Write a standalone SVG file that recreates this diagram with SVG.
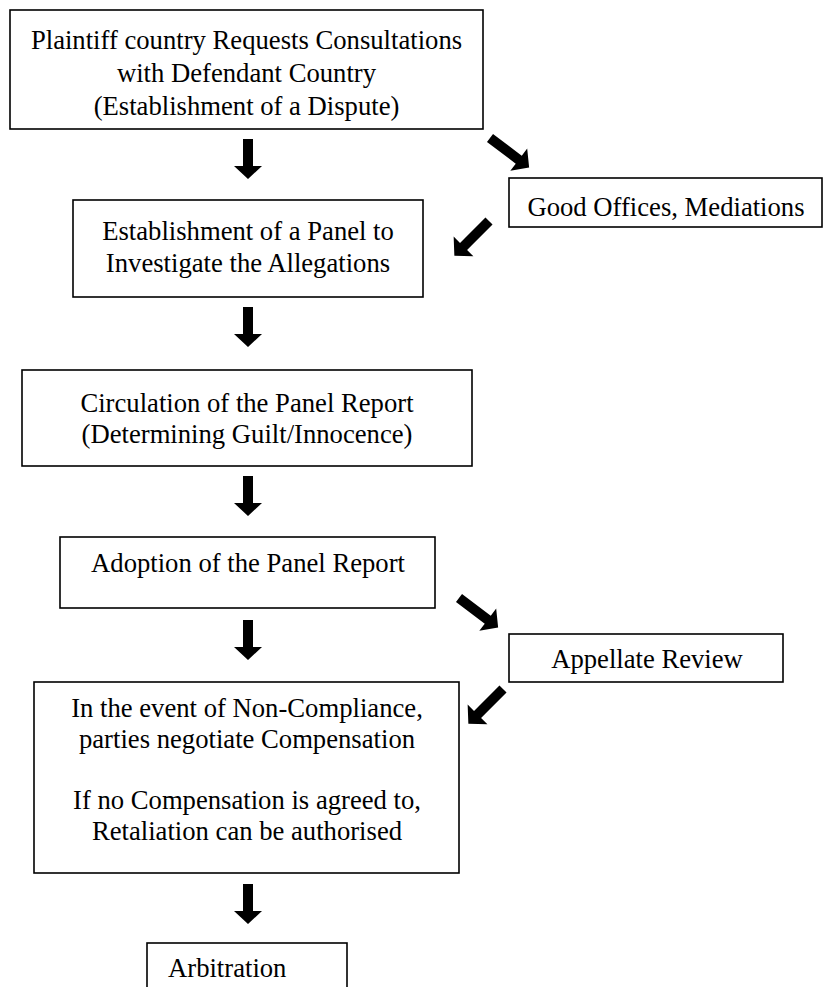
<svg xmlns="http://www.w3.org/2000/svg" width="823" height="987" viewBox="0 0 823 987">
<style>
.box{fill:#fff;stroke:#000;stroke-width:1.6}
.t{font-family:"Liberation Serif","Times New Roman",serif;font-size:26.67px;fill:#000;text-anchor:middle}
.arr{fill:#000}
</style>
<defs>
<path id="a40" d="M0,-5 H27 V-14 L40,0 L27,14 V5 H0 Z"/>
<path id="a49" d="M0,-5 H36 V-14 L49,0 L36,14 V5 H0 Z"/>
</defs>
<rect width="823" height="987" fill="#fff"/>
<g id="connectors" class="arr">
<use href="#a40" transform="translate(248,139) rotate(90)"/>
<use href="#a40" transform="translate(248,307) rotate(90)"/>
<use href="#a40" transform="translate(248,476) rotate(90)"/>
<use href="#a40" transform="translate(248,620) rotate(90)"/>
<use href="#a40" transform="translate(248,884) rotate(90)"/>
<use href="#a49" transform="translate(490,138) rotate(37)"/>
<use href="#a49" transform="translate(489,221) rotate(135)"/>
<use href="#a49" transform="translate(459,598) rotate(37)"/>
<use href="#a49" transform="translate(503,689) rotate(135)"/>
</g>
<g id="n1">
<rect class="box" x="10" y="10" width="473" height="119"/>
<text class="t" x="246.5" y="49">Plaintiff country Requests Consultations</text>
<text class="t" x="246.5" y="82">with Defendant Country</text>
<text class="t" x="246.5" y="115">(Establishment of a Dispute)</text>
</g>
<g id="n_good">
<rect class="box" x="509" y="178" width="313" height="49"/>
<text class="t" x="666" y="216">Good Offices, Mediations</text>
</g>
<g id="n2">
<rect class="box" x="73" y="200" width="350" height="97"/>
<text class="t" x="248" y="240">Establishment of a Panel to</text>
<text class="t" x="248" y="272">Investigate the Allegations</text>
</g>
<g id="n3">
<rect class="box" x="22" y="370" width="450" height="96"/>
<text class="t" x="247" y="412">Circulation of the Panel Report</text>
<text class="t" x="247" y="443">(Determining Guilt/Innocence)</text>
</g>
<g id="n4">
<rect class="box" x="60" y="537" width="375" height="71"/>
<text class="t" x="248" y="572">Adoption of the Panel Report</text>
</g>
<g id="n_appellate">
<rect class="box" x="509" y="634" width="274" height="48"/>
<text class="t" x="647" y="668">Appellate Review</text>
</g>
<g id="n5">
<rect class="box" x="34" y="682" width="425" height="191"/>
<text class="t" x="247" y="717">In the event of Non-Compliance,</text>
<text class="t" x="247" y="748">parties negotiate Compensation</text>
<text class="t" x="247" y="809">If no Compensation is agreed to,</text>
<text class="t" x="247" y="840">Retaliation can be authorised</text>
</g>
<g id="n6">
<rect class="box" x="147" y="943" width="200" height="60"/>
<text class="t" x="168" y="977" style="text-anchor:start">Arbitration</text>
</g>
</svg>
